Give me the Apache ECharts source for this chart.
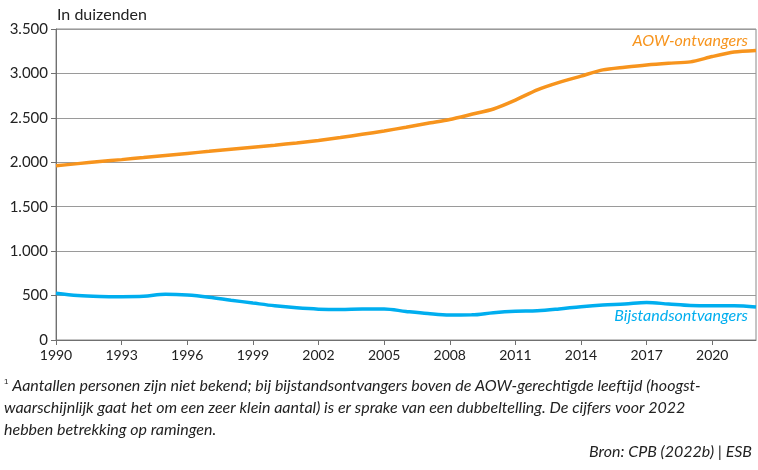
<!DOCTYPE html>
<html>
<head>
<meta charset="utf-8">
<script src="https://cdn.jsdelivr.net/npm/echarts@6/dist/echarts.min.js"></script>
<style>html,body{margin:0;padding:0;background:#fff}#c{width:758px;height:470px}</style>
</head>
<body>
<div id="c"></div>
<script>
const years = [];
for (let y = 1990; y <= 2022; y++) years.push(String(y));
const aow = [1960,1985,2008,2030,2053,2077,2100,2123,2147,2170,2193,2218,2245,2278,2315,2352,2395,2440,2482,2540,2600,2700,2816,2900,2970,3040,3070,3096,3115,3130,3190,3240,3258];
const bijstand = [526,500,490,488,492,514,506,482,448,416,385,362,347,343,350,349,322,298,282,283,308,324,330,350,375,394,405,422,405,388,386,386,371];
const yTicks = {min: 0, max: 3500, step: 500};
const title = 'In duizenden';
const aowLabel = 'AOW-ontvangers';
const bijLabel = 'Bijstandsontvangers';
const footLines = [
  'Aantallen personen zijn niet bekend; bij bijstandsontvangers boven de AOW-gerechtigde leeftijd (hoogst-',
  'waarschijnlijk gaat het om een zeer klein aantal) is er sprake van een dubbeltelling. De cijfers voor 2022',
  'hebben betrekking op ramingen.'
];
const source = 'Bron: CPB (2022b) | ESB';

const FONT = 'Lato';
const chart = echarts.init(document.getElementById('c'));
chart.setOption({
  animation: false,
  textStyle: {fontFamily: FONT},
  grid: {left: 56, right: 2, top: 29, bottom: 130, show: true, borderColor: '#8a8a8a', borderWidth: 1},
  xAxis: {
    type: 'category', data: years, boundaryGap: false,
    axisLine: {lineStyle: {color: '#707070', width: 1}},
    axisTick: {interval: 2, length: 5, lineStyle: {color: '#707070'}},
    axisLabel: {interval: 2, color: '#222', fontSize: 14, fontFamily: FONT, margin: 8},
    splitLine: {show: false}
  },
  yAxis: {
    type: 'value', min: yTicks.min, max: yTicks.max, interval: yTicks.step,
    axisLine: {show: true, lineStyle: {color: '#707070', width: 1}},
    axisTick: {show: true, length: 5, lineStyle: {color: '#707070'}},
    axisLabel: {color: '#222', fontSize: 15, fontFamily: FONT, margin: 8,
      formatter: v => v >= 1000 ? Math.floor(v/1000) + '.' + String(v%1000).padStart(3,'0') : String(v)},
    splitLine: {lineStyle: {color: '#9a9a9a', width: 1}}
  },
  series: [
    {type: 'line', data: aow, smooth: 0.25, symbol: 'none', lineStyle: {color: '#F7941D', width: 3.5}},
    {type: 'line', data: bijstand, smooth: 0.35, symbol: 'none', lineStyle: {color: '#00AEEF', width: 3.5}}
  ],
  graphic: [
    {type: 'text', left: 57, top: 7, style: {text: title, fontSize: 16, fontFamily: FONT, fill: '#222'}},
    {type: 'text', right: 10, top: 33, style: {text: aowLabel, fontSize: 16, fontStyle: 'italic', fontFamily: FONT, fill: '#F7941D'}},
    {type: 'text', right: 10, top: 308, style: {text: bijLabel, fontSize: 16, fontStyle: 'italic', fontFamily: FONT, fill: '#00AEEF'}},
    {type: 'text', left: 4, top: 378, style: {
      text: '{s|1} ' + footLines[0], fontSize: 16, fontStyle: 'italic', fontFamily: FONT, fill: '#222',
      rich: {s: {fontSize: 8, verticalAlign: 'top', fontStyle: 'normal', fill: '#222', padding: [0,0,6,0]}}
    }},
    {type: 'text', left: 4, top: 400, style: {text: footLines[1], fontSize: 16, fontStyle: 'italic', fontFamily: FONT, fill: '#222'}},
    {type: 'text', left: 4, top: 422, style: {text: footLines[2], fontSize: 16, fontStyle: 'italic', fontFamily: FONT, fill: '#222'}},
    {type: 'text', right: 6, top: 444, style: {text: source, fontSize: 16, fontStyle: 'italic', fontFamily: FONT, fill: '#222'}}
  ]
});
</script>
</body>
</html>
